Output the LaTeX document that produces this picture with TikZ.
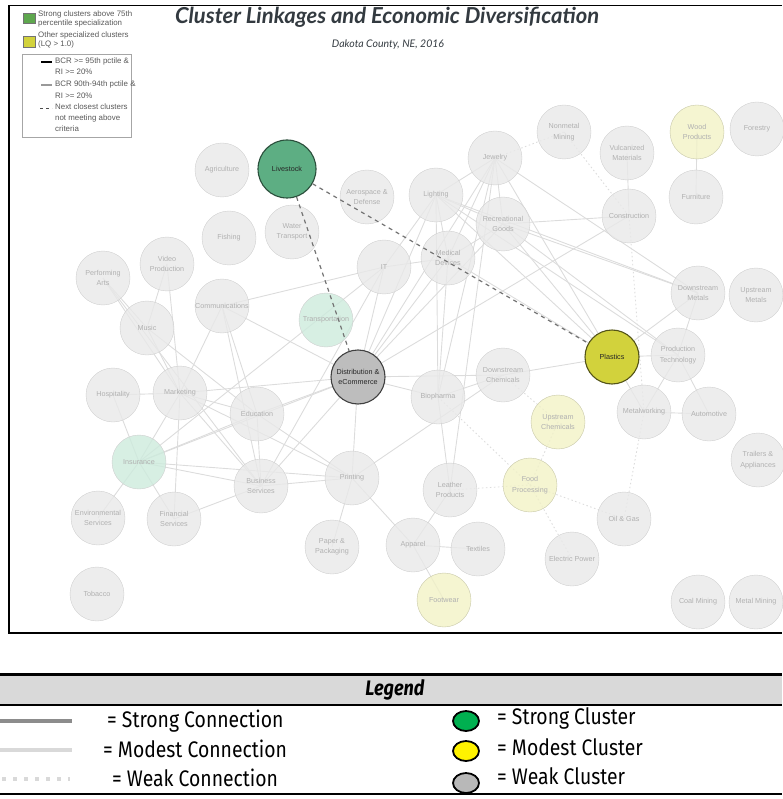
\documentclass[tikz,border=0pt]{standalone}
\usepackage{fontspec}
\setmainfont{Liberation Sans}
\newfontfamily\titlefont{Lato}
\newfontfamily\legfont[FakeStretch=0.86]{Fira Sans}
\usetikzlibrary{shapes.geometric}
\definecolor{nodegray}{HTML}{E9E9E9}
\definecolor{nodeline}{HTML}{CFCFCF}
\definecolor{nodetext}{HTML}{B0B0B0}
\definecolor{palegreen}{HTML}{CDEBDC}
\definecolor{paleyellow}{HTML}{F2F2C6}
\definecolor{livegreen}{HTML}{5DAE83}
\definecolor{plastyellow}{HTML}{D2D23C}
\definecolor{distgray}{HTML}{BDBDBD}
\definecolor{linkgray}{HTML}{DCDCDC}
\definecolor{keygreen}{HTML}{00B050}
\definecolor{headgray}{HTML}{D9D9D9}
\definecolor{titlegray}{HTML}{333A40}
\pgfdeclarelayer{edges}
\pgfsetlayers{edges,main}

\begin{document}
\begin{tikzpicture}[x=1pt, y=-1pt,
  clus/.style={circle, draw=nodeline, fill=nodegray, fill opacity=0.8, text opacity=1,
    minimum size=54pt, inner sep=0pt, align=center, text=nodetext,
    font=\fontsize{7.2}{10.5}\selectfont},
  topclus/.style={clus, fill opacity=1, line width=1.1pt, text=black!85},
  link/.style={linkgray, line width=0.9pt},
  weak/.style={linkgray, line width=0.9pt, dash pattern=on 1.5pt off 2.5pt},
  near/.style={black!55, line width=1.2pt, dash pattern=on 4pt off 4pt},
  keytxt/.style={anchor=west, align=left, text=black!65, font=\fontsize{7.9}{11.2}\selectfont, inner sep=0pt},
  legtxt/.style={anchor=west, inner sep=0pt, font=\legfont\fontsize{22.5}{24}\selectfont},
  blob/.style={ellipse, draw=black, line width=1.8pt, minimum width=26pt, minimum height=20pt, inner sep=0pt}]
\useasboundingbox (0,0) rectangle (782,799);

% frame of the chart
\draw[line width=1.6pt] (782,5.5) -- (8.8,5.5) -- (8.8,633) -- (782,633);
\node[font=\titlefont\bfseries\itshape\fontsize{22}{24}\selectfont, text=titlegray] (title) at (387,17) {Cluster Linkages and Economic Diversification};
\node[font=\titlefont\itshape\fontsize{10.5}{12}\selectfont, text=titlegray] (subtitle) at (388,45) {Dakota County, NE, 2016};

% small key, top left
\filldraw[fill=keygreen!60!lime!70!black!80, draw=black!55, line width=0.4pt] (23,13) rectangle (35,23);
\filldraw[fill=plastyellow, draw=black!55, line width=0.4pt] (23,36) rectangle (35,47);
\node[keytxt, anchor=north west] (k1) at (38,11) {Strong clusters above 75th\\[-2.6pt]percentile specialization};
\node[keytxt, anchor=north west] (k2) at (38,32) {Other specialized clusters\\[-2.6pt](LQ > 1.0)};
\draw[black!35, line width=0.5pt] (22,54) rectangle (131,137);
\draw[black, line width=1.3pt] (41,62) -- (52,62);
\draw[black!40, line width=1.3pt] (41,85) -- (52,85);
\draw[black!70, line width=0.9pt, dash pattern=on 3pt off 3pt] (40,108) -- (52,108);
\node[keytxt, anchor=north west] (k3) at (55,57.5) {BCR >= 95th pctile \&\\RI >= 20\%};
\node[keytxt, anchor=north west] (k4) at (55,81) {BCR 90th-94th pctile \&\\RI >= 20\%};
\node[keytxt, anchor=north west] (k5) at (55,103.5) {Next closest clusters\\not meeting above\\criteria};

% clusters
\foreach \nm/\x/\y/\txt in {agri/222/170/Agriculture, aero/367/197/{Aerospace \&\\Defense},
  fish/229/238/Fishing, water/292/232/{Water\\Transport}, it/384/267/IT,
  perf/103/278/{Performing\\Arts}, video/167/264/{Video\\Production}, comm/222/306/Communications,
  music/147/328/Music, nonmet/564/132/{Nonmetal\\Mining}, vulc/627/153/{Vulcanized\\Materials},
  forest/757/129/Forestry, jewel/495/158/Jewelry, furn/696/197/Furniture, light/436/195/Lighting,
  recr/503/224/{Recreational\\Goods}, constr/629/216/Construction, med/448/258/{Medical\\Devices},
  dmet/698/293/{Downstream\\Metals}, umet/756/295/{Upstream\\Metals}, prod/678/355/{Production\\Technology},
  dchem/503/375/{Downstream\\Chemicals}, bio/438/397/Biopharma, metw/644/412/Metalworking,
  auto/709/414/Automotive, trail/758/460/{Trailers \&\\Appliances}, leath/450/490/{Leather\\Products},
  oil/624/519/{Oil \& Gas}, app/413/545/Apparel, textl/478/549/Textiles, elec/572/559/{Electric Power},
  coal/698/602/{Coal Mining}, mmin/756/602/{Metal Mining}, hosp/113/395/Hospitality,
  mark/180/393/Marketing, edu/257/414/Education, print/352/478/Printing, bus/261/486/{Business\\Services},
  env/98/518/{Environmental\\Services}, fin/174/519/{Financial\\Services}, paper/332/547/{Paper \&\\Packaging},
  tob/97/594/Tobacco} {
  \node[clus] (\nm) at (\x,\y) {\txt};
}
\foreach \nm/\x/\y/\txt in {trans/326/320/Transportation, ins/139/462/Insurance} {
  \node[clus, fill=palegreen] (\nm) at (\x,\y) {\txt};
}
\foreach \nm/\x/\y/\txt in {wood/697/132/{Wood\\Products}, uchem/558/422/{Upstream\\Chemicals},
  food/530/485/{Food\\Processing}, foot/444/600/Footwear} {
  \node[clus, fill=paleyellow, draw=paleyellow!80!black!90] (\nm) at (\x,\y) {\txt};
}
\node[topclus, fill=livegreen, draw=livegreen!45!black, minimum size=58pt] (live) at (287,169) {Livestock};
\node[topclus, fill=plastyellow, draw=plastyellow!40!black] (plast) at (612,357) {Plastics};
\node[topclus, fill=distgray, draw=black!75] (dist) at (358,377) {Distribution \&\\eCommerce};

% linkages
\begin{pgfonlayer}{edges}
\foreach \a/\b in {dist/it, dist/light, dist/jewel, dist/med, dist/recr, dist/comm, dist/mark,
  dist/edu, dist/bus, dist/bio, dist/ins, dist/print, dist/dchem, dist/constr,
  light/jewel, light/recr, light/med, light/dmet, light/prod, light/plast, light/it, light/bio,
  jewel/recr, jewel/med, jewel/bio, jewel/leath, jewel/dmet, jewel/plast,
  recr/plast, recr/prod, recr/dmet, recr/med, recr/constr, med/it, med/plast, med/bio,
  mark/perf, mark/music, mark/hosp, mark/edu, mark/bus, mark/ins, mark/fin, mark/print,
  mark/comm, mark/video, edu/bus, edu/ins, edu/comm, edu/print, edu/music,
  ins/fin, ins/bus, ins/print, ins/hosp, ins/env, ins/it, print/paper, print/app, print/bus,
  print/dchem, perf/music, perf/bus, music/video, comm/it, comm/bus,
  plast/prod, plast/metw, plast/dchem, plast/dmet, prod/metw, prod/auto, prod/dmet, metw/auto,
  wood/furn, vulc/constr, app/leath, app/textl, app/foot, leath/bio, fin/bus, bus/it, dchem/bio} {
  \draw[link] (\a.center) -- (\b.center);
}
\foreach \a/\b in {metw/oil, food/elec, nonmet/constr, uchem/food, leath/food, dchem/uchem,
  food/oil, constr/metw, jewel/nonmet, bio/food} {
  \draw[weak] (\a.center) -- (\b.center);
}
\end{pgfonlayer}
\draw[near] (live) -- (plast);
\draw[near] (live) -- (dist);

% legend table
\fill[headgray] (0,676) rectangle (782,704.5);
\draw[line width=3pt] (0,674.5) -- (782,674.5);
\draw[line width=2pt] (0,705) -- (782,705);
\draw[line width=2pt] (0,794) -- (782,794);
\node[font=\legfont\bfseries\itshape\fontsize{21}{22}\selectfont] (legtitle) at (395,690) {Legend};
\draw[black!45, line width=4pt] (0,721) -- (72,721);
\draw[headgray, line width=4pt] (0,750) -- (72,750);
\draw[headgray, line width=4pt, dash pattern=on 4pt off 7pt] (2,779) -- (70,779);
\node[legtxt] (lstrong) at (107,721) {= Strong Connection};
\node[legtxt] (lmodest) at (103,749) {= Modest Connection};
\node[legtxt] (lweak) at (112,778) {= Weak Connection};
\node[blob, fill=keygreen] (bstrong) at (466,721) {};
\node[blob, fill=yellow] (bmodest) at (466,751) {};
\node[blob, fill=headgray!85!black] (bweak) at (466,783) {};
\node[legtxt] (cstrong) at (497,718) {= Strong Cluster};
\node[legtxt] (cmodest) at (497,747) {= Modest Cluster};
\node[legtxt] (cweak) at (497,776) {= Weak Cluster};
\end{tikzpicture}
\end{document}
